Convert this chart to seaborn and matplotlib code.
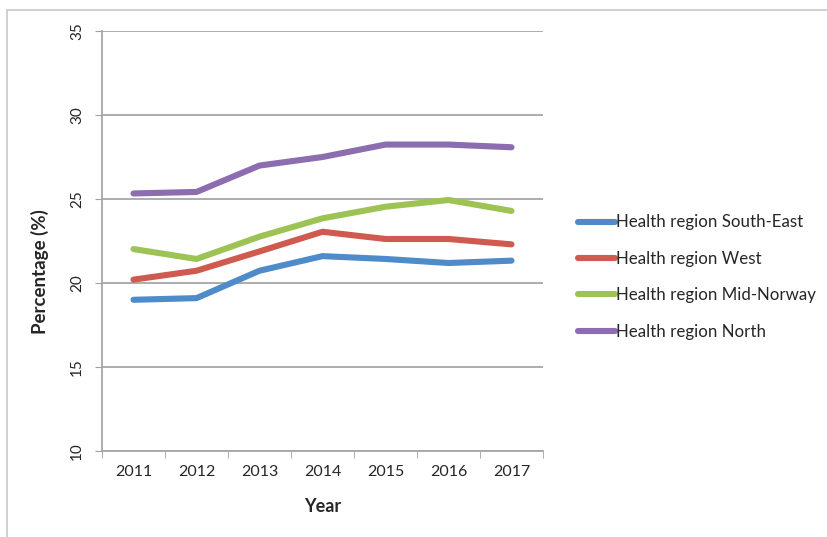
import matplotlib
matplotlib.use("Agg")
import matplotlib.pyplot as plt
import seaborn as sns
import pandas as pd
from matplotlib.patches import Rectangle

years = [2011, 2012, 2013, 2014, 2015, 2016, 2017]
south_east = [19.0, 19.1, 20.73, 21.6, 21.43, 21.19, 21.33]
west = [20.2, 20.73, 21.88, 23.05, 22.62, 22.62, 22.3]
mid_norway = [22.02, 21.43, 22.76, 23.85, 24.54, 24.94, 24.29]
north = [25.33, 25.42, 26.99, 27.5, 28.24, 28.24, 28.08]
series_names = ["Health region South-East", "Health region West",
                "Health region Mid-Norway", "Health region North"]
y_ticks = [10, 15, 20, 25, 30, 35]

rows = []
for name, vals in zip(series_names, [south_east, west, mid_norway, north]):
    for y, v in zip(years, vals):
        rows.append({"Year": y, "Value": v, "Region": name})
df = pd.DataFrame(rows)

sns.set_style("white")
plt.rcParams['font.family'] = ['Lato', 'DejaVu Sans']

colors = ["#4F8BC9", "#CF5A50", "#9DC355", "#8C6DB0"]

fig = plt.figure(figsize=(8.28, 5.37), dpi=100)
fig.patches.append(Rectangle((7/828, -0.1), 1.2, 1 - 10/537 + 0.1, transform=fig.transFigure,
                             fill=False, edgecolor="#C8C8C8", linewidth=1.2))
ax = fig.add_axes([102/828, 1 - 451/537, 441/828, 420/537])

sns.lineplot(data=df, x="Year", y="Value", hue="Region", palette=colors,
             linewidth=4.4, ax=ax, legend=True, solid_capstyle="round")

ax.set_xlim(2010.5, 2017.5)
ax.set_ylim(10, 35)
ax.set_yticks(y_ticks)
ax.set_yticklabels([str(t) for t in y_ticks], rotation=90, va="center", fontsize=11)
ax.set_xticks(years)
ax.set_xticklabels([str(y) for y in years], fontsize=11.5)
ax.set_xticks([2010.5 + i for i in range(8)], minor=True)
ax.tick_params(axis="x", which="major", length=0, pad=10)
ax.tick_params(axis="x", which="minor", length=5, color="#A0A0A0", direction="out", bottom=True)
ax.tick_params(axis="y", which="major", length=5, color="#A0A0A0", direction="out", left=True, pad=8)

ax.grid(axis="y", color="#A6A6A6", linewidth=1.3)
ax.set_axisbelow(True)
for s in ["top", "right"]:
    ax.spines[s].set_visible(False)
for s in ["left", "bottom"]:
    ax.spines[s].set_color("#A6A6A6")
    ax.spines[s].set_linewidth(1.3)

ax.set_xlabel("")
ax.set_ylabel("")
fig.text(323/828, 1 - 506/537, "Year", ha="center", va="center", fontsize=13, fontweight="bold")
fig.text(40/828, 1 - 272/537, "Percentage (%)", ha="center", va="center", rotation=90,
         fontsize=13.5, fontweight="bold")

handles, labels = ax.get_legend_handles_labels()
leg = ax.legend(handles, labels, loc="center left", bbox_to_anchor=(563/828, 1 - 277/537),
                bbox_transform=fig.transFigure, frameon=False, fontsize=12.2,
                handlelength=2.15, handletextpad=0.05, labelspacing=1.2)
for line in leg.get_lines():
    line.set_linewidth(4.4)
    line.set_solid_capstyle("round")

fig.savefig("out.png", dpi=100)
